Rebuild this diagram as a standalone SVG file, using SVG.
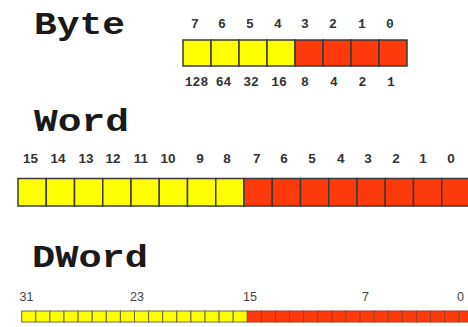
<svg xmlns="http://www.w3.org/2000/svg" width="468" height="327" viewBox="0 0 468 327">
<style>
.title{font-family:"Liberation Mono","Courier New",monospace;font-weight:bold;font-size:32px;fill:#1a1a1a}
.bl{font-family:"Liberation Mono","Courier New",monospace;font-weight:bold;font-size:13px;fill:#333;text-anchor:middle}
.wl{font-family:"Liberation Sans",Arial,sans-serif;font-weight:bold;font-size:13.5px;fill:#333;text-anchor:middle}
.dl{font-family:"Liberation Sans",Arial,sans-serif;font-size:12.5px;fill:#444}
.y{fill:#ffff00;stroke:#3a3a3a;stroke-width:1.5}
.r{fill:#ff3a0a;stroke:#3a3a3a;stroke-width:1.5}
.ys{fill:#ffff00;stroke:#6a6a40;stroke-width:1}
.rs{fill:#ff3a0a;stroke:#a0401a;stroke-width:1}
</style>
<rect width="468" height="327" fill="#ffffff"/>
<g id="byte">
<text class="title" x="34" y="34" textLength="91" lengthAdjust="spacingAndGlyphs">Byte</text>
<g>
<text class="bl" x="195" y="28">7</text><text class="bl" x="222" y="28">6</text><text class="bl" x="250" y="28">5</text><text class="bl" x="278" y="28">4</text><text class="bl" x="305" y="28">3</text><text class="bl" x="333" y="28">2</text><text class="bl" x="362" y="28">1</text><text class="bl" x="390" y="28">0</text>
</g>
<rect class="y" x="183" y="40" width="28" height="26"/><rect class="y" x="211" y="40" width="28" height="26"/><rect class="y" x="239" y="40" width="28" height="26"/><rect class="y" x="267" y="40" width="28" height="26"/>
<rect class="r" x="295" y="40" width="28" height="26"/><rect class="r" x="323" y="40" width="28" height="26"/><rect class="r" x="351" y="40" width="28" height="26"/><rect class="r" x="379" y="40" width="28" height="26"/>
<g>
<text class="bl" x="196.5" y="86">128</text><text class="bl" x="223.5" y="86">64</text><text class="bl" x="251" y="86">32</text><text class="bl" x="279" y="86">16</text><text class="bl" x="305" y="86">8</text><text class="bl" x="334" y="86">4</text><text class="bl" x="362.5" y="86">2</text><text class="bl" x="391" y="86">1</text>
</g>
</g>
<g id="word">
<text class="title" x="34" y="131" textLength="95" lengthAdjust="spacingAndGlyphs">Word</text>
<g>
<text class="wl" x="30.5" y="163">15</text><text class="wl" x="58" y="163">14</text><text class="wl" x="86" y="163">13</text><text class="wl" x="113" y="163">12</text><text class="wl" x="141" y="163">11</text><text class="wl" x="168" y="163">10</text><text class="wl" x="200" y="163">9</text><text class="wl" x="227" y="163">8</text>
<text class="wl" x="256.7" y="163">7</text><text class="wl" x="284" y="163">6</text><text class="wl" x="312" y="163">5</text><text class="wl" x="340.7" y="163">4</text><text class="wl" x="368" y="163">3</text><text class="wl" x="396" y="163">2</text><text class="wl" x="423" y="163">1</text><text class="wl" x="451" y="163">0</text>
</g>
<rect class="y" x="18" y="178.5" width="28.25" height="27.5"/><rect class="y" x="46.25" y="178.5" width="28.25" height="27.5"/><rect class="y" x="74.5" y="178.5" width="28.25" height="27.5"/><rect class="y" x="102.75" y="178.5" width="28.25" height="27.5"/><rect class="y" x="131" y="178.5" width="28.25" height="27.5"/><rect class="y" x="159.25" y="178.5" width="28.25" height="27.5"/><rect class="y" x="187.5" y="178.5" width="28.25" height="27.5"/><rect class="y" x="215.75" y="178.5" width="28.25" height="27.5"/>
<rect class="r" x="244" y="178.5" width="28.25" height="27.5"/><rect class="r" x="272.25" y="178.5" width="28.25" height="27.5"/><rect class="r" x="300.5" y="178.5" width="28.25" height="27.5"/><rect class="r" x="328.75" y="178.5" width="28.25" height="27.5"/><rect class="r" x="357" y="178.5" width="28.25" height="27.5"/><rect class="r" x="385.25" y="178.5" width="28.25" height="27.5"/><rect class="r" x="413.5" y="178.5" width="28.25" height="27.5"/><rect class="r" x="441.75" y="178.5" width="28.25" height="27.5"/>
</g>
<g id="dword">
<text class="title" x="32" y="267" textLength="116" lengthAdjust="spacingAndGlyphs">DWord</text>
<text class="dl" x="19.5" y="301">31</text><text class="dl" x="130" y="301">23</text><text class="dl" x="243" y="301">15</text><text class="dl" x="362" y="301">7</text><text class="dl" x="457" y="301">0</text>
<g>
<rect class="ys" x="21.7" y="311" width="14.1" height="11"/><rect class="ys" x="35.8" y="311" width="14.1" height="11"/><rect class="ys" x="49.9" y="311" width="14.1" height="11"/><rect class="ys" x="64" y="311" width="14.1" height="11"/><rect class="ys" x="78.1" y="311" width="14.1" height="11"/><rect class="ys" x="92.2" y="311" width="14.1" height="11"/><rect class="ys" x="106.3" y="311" width="14.1" height="11"/><rect class="ys" x="120.4" y="311" width="14.1" height="11"/>
<rect class="ys" x="134.5" y="311" width="14.1" height="11"/><rect class="ys" x="148.6" y="311" width="14.1" height="11"/><rect class="ys" x="162.7" y="311" width="14.1" height="11"/><rect class="ys" x="176.8" y="311" width="14.1" height="11"/><rect class="ys" x="190.9" y="311" width="14.1" height="11"/><rect class="ys" x="205" y="311" width="14.1" height="11"/><rect class="ys" x="219.1" y="311" width="14.1" height="11"/><rect class="ys" x="233.2" y="311" width="14.1" height="11"/>
<rect class="rs" x="247.3" y="311" width="14.1" height="11"/><rect class="rs" x="261.4" y="311" width="14.1" height="11"/><rect class="rs" x="275.5" y="311" width="14.1" height="11"/><rect class="rs" x="289.6" y="311" width="14.1" height="11"/><rect class="rs" x="303.7" y="311" width="14.1" height="11"/><rect class="rs" x="317.8" y="311" width="14.1" height="11"/><rect class="rs" x="331.9" y="311" width="14.1" height="11"/><rect class="rs" x="346" y="311" width="14.1" height="11"/>
<rect class="rs" x="360.1" y="311" width="14.1" height="11"/><rect class="rs" x="374.2" y="311" width="14.1" height="11"/><rect class="rs" x="388.3" y="311" width="14.1" height="11"/><rect class="rs" x="402.4" y="311" width="14.1" height="11"/><rect class="rs" x="416.5" y="311" width="14.1" height="11"/><rect class="rs" x="430.6" y="311" width="14.1" height="11"/><rect class="rs" x="444.7" y="311" width="14.1" height="11"/><rect class="rs" x="458.8" y="311" width="14.1" height="11"/>
</g>
</g>
<g id="connectors"/>
</svg>
